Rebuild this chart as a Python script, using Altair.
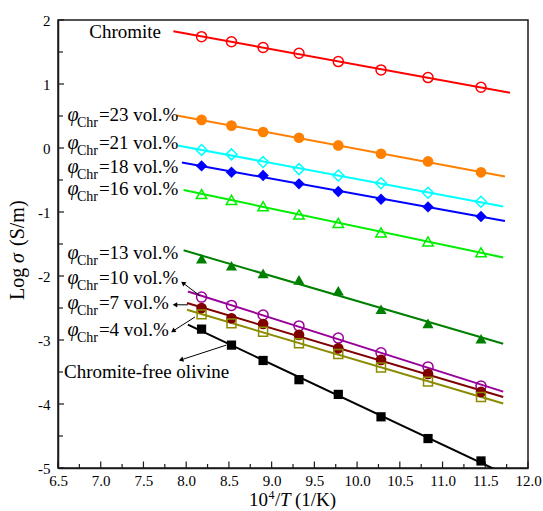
import math
import altair as alt
import numpy as np
import pandas as pd

# 10^4/T (1/K) of the eight measurement temperatures
inv_t = [8.18, 8.53, 8.90, 9.32, 9.78, 10.28, 10.83, 11.45]

# log10 conductivity (S/m) at each temperature
chromite = [1.74, 1.66, 1.57, 1.48, 1.35, 1.22, 1.10, 0.95]
chr23 = [0.44, 0.35, 0.25, 0.16, 0.04, -0.09, -0.21, -0.38]
chr21 = [-0.03, -0.10, -0.22, -0.33, -0.43, -0.55, -0.70, -0.84]
chr18 = [-0.28, -0.38, -0.43, -0.56, -0.68, -0.80, -0.92, -1.07]
chr16 = [-0.72, -0.81, -0.91, -1.04, -1.17, -1.32, -1.46, -1.63]
chr13 = [-1.73, -1.84, -1.96, -2.06, -2.23, -2.52, -2.74, -2.98]
chr10 = [-2.33, -2.46, -2.61, -2.78, -2.97, -3.20, -3.42, -3.72]
chr7 = [-2.50, -2.66, -2.75, -2.92, -3.13, -3.31, -3.53, -3.81]
chr4 = [-2.60, -2.74, -2.87, -3.05, -3.22, -3.43, -3.65, -3.89]
olivine = [-2.83, -3.08, -3.32, -3.62, -3.85, -4.20, -4.54, -4.89]

series_values = [chromite, chr23, chr21, chr18, chr16, chr13, chr10, chr7, chr4, olivine]

# x extent of each Arrhenius fit line
fit_start = [7.85, 7.89, 7.90, 7.95, 7.97, 7.97, 8.02, 8.01, 8.01, 8.02]
fit_end = [11.79, 11.73, 11.71, 11.73, 11.71, 11.71, 11.71, 11.71, 11.71, 11.70]

# marker styles
colors = ["#FF0000", "#FF8000", "#00FFFF", "#0000FF", "#00EE00",
          "#008000", "#990099", "#800000", "#8B8B00", "#000000"]
shapes = ["circle", "circle", "diamond", "diamond", "triangle-up",
          "triangle-up", "circle", "circle", "square", "square"]
filled = [False, True, False, True, False, True, False, True, False, True]
sizes = [100, 115, 120, 130, 110, 125, 100, 115, 80, 85]

# composition labels
phi_text = ["=23 vol.%", "=21 vol.%", "=18 vol.%", "=16 vol.%",
            "=13 vol.%", "=10 vol.%", "=7 vol.%", "=4 vol.%"]
phi_y = [0.52, 0.08, -0.30, -0.64, -1.64, -2.03, -2.42, -2.84]
phi_x = [6.61] * 8
plain_text = ["Chromite", "Chromite-free olivine"]
plain_x = [6.866, 6.57]
plain_y = [1.81, -3.50]

# leader arrows (head next to label, tail at the data)
arrow_head_x = [7.963, 7.869, 7.846, 7.94]
arrow_head_y = [-2.11, -2.45, -2.86, -3.31]
arrow_tail_x = [8.162, 8.021, 8.103, 8.47]
arrow_tail_y = [-2.31, -2.45, -2.64, -3.08]

# axis ticks
x_major = [6.5, 7.0, 7.5, 8.0, 8.5, 9.0, 9.5, 10.0, 10.5, 11.0, 11.5, 12.0]
x_minor = [6.75, 7.25, 7.75, 8.25, 8.75, 9.25, 9.75, 10.25, 10.75, 11.25, 11.75]
y_major = [-5, -4, -3, -2, -1, 0, 1, 2]
y_minor = [-4.5, -3.5, -2.5, -1.5, -0.5, 0.5, 1.5]

W, H = 470, 448
FONT = "Liberation Serif"
INK = "#1a1a1a"
XMIN, XMAX, YMIN, YMAX = 6.5, 12.0, -5.0, 2.0

xs = alt.Scale(domain=[XMIN, XMAX], nice=False, zero=False)
ys = alt.Scale(domain=[YMIN, YMAX], nice=False, zero=False)

x_axis = alt.Axis(values=x_major, format=".1f", ticks=False, grid=False, title=None,
                  labelFont=FONT, labelFontSize=15, labelColor="black", labelPadding=5,
                  domainColor=INK, domainWidth=1.5, labelFlush=False)
y_axis = alt.Axis(values=y_major, labelExpr="'' + datum.value", ticks=False, grid=False,
                  title=None, labelFont=FONT, labelFontSize=15, labelColor="black",
                  labelPadding=8, domainColor=INK, domainWidth=1.5, labelFlush=False)


def X(field="x"):
    return alt.X(f"{field}:Q", scale=xs, axis=x_axis)


def Y(field="y"):
    return alt.Y(f"{field}:Q", scale=ys, axis=y_axis)


layers = []

# inward tick marks
layers.append(alt.Chart(pd.DataFrame({"x": x_major})).mark_rule(color=INK, strokeWidth=1.2)
              .encode(x=X(), y=alt.value(H), y2=alt.value(H - 6.5)))
layers.append(alt.Chart(pd.DataFrame({"x": x_minor})).mark_rule(color=INK, strokeWidth=1.2)
              .encode(x=X(), y=alt.value(H), y2=alt.value(H - 4)))
layers.append(alt.Chart(pd.DataFrame({"y": y_major})).mark_rule(color=INK, strokeWidth=1.2)
              .encode(y=Y(), x=alt.value(0), x2=alt.value(6)))
layers.append(alt.Chart(pd.DataFrame({"y": y_minor})).mark_rule(color=INK, strokeWidth=1.2)
              .encode(y=Y(), x=alt.value(0), x2=alt.value(5)))

# least-squares Arrhenius fits
for vals, x0, x1, c in zip(series_values, fit_start, fit_end, colors):
    slope, icpt = np.polyfit(inv_t, vals, 1)
    line_df = pd.DataFrame({"x": [x0, x1], "y": [slope * x0 + icpt, slope * x1 + icpt]})
    layers.append(alt.Chart(line_df).mark_line(color=c, strokeWidth=2, clip=True)
                  .encode(x=X(), y=Y()))

# measured points
for vals, c, shp, f, s in zip(series_values, colors, shapes, filled, sizes):
    pt_df = pd.DataFrame({"x": inv_t, "y": vals})
    layers.append(alt.Chart(pt_df).mark_point(shape=shp, filled=f, color=c, size=s,
                                              strokeWidth=1.5, opacity=1)
                  .encode(x=X(), y=Y()))

# composition labels: italic phi, subscript "Chr", then the fraction
lab_df = pd.DataFrame({"x": phi_x, "y": phi_y, "t": phi_text})
layers.append(alt.Chart(lab_df).mark_text(text="φ", font=FONT, fontSize=20, fontStyle="italic",
                                          align="left", baseline="middle", color="black")
              .encode(x=X(), y=Y()))
layers.append(alt.Chart(lab_df).mark_text(text="Chr", font=FONT, fontSize=14, align="left",
                                          baseline="middle", color="black", dx=9.5, dy=8)
              .encode(x=X(), y=Y()))
layers.append(alt.Chart(lab_df).mark_text(font=FONT, fontSize=19, align="left",
                                          baseline="middle", color="black", dx=31.5)
              .encode(x=X(), y=Y(), text="t:N"))

plain_df = pd.DataFrame({"x": plain_x, "y": plain_y, "t": plain_text})
layers.append(alt.Chart(plain_df).mark_text(font=FONT, fontSize=19, align="left",
                                            baseline="middle", color="black")
              .encode(x=X(), y=Y(), text="t:N"))

# leader arrows
px_per_x = W / (XMAX - XMIN)
px_per_y = H / (YMAX - YMIN)
angles = []
for hx, hy, tx, ty in zip(arrow_head_x, arrow_head_y, arrow_tail_x, arrow_tail_y):
    dxp = (hx - tx) * px_per_x
    dyp = -(hy - ty) * px_per_y
    angles.append(math.degrees(math.atan2(dxp, -dyp)) % 360)
arrow_df = pd.DataFrame({"x": arrow_tail_x, "y": arrow_tail_y,
                         "x2": arrow_head_x, "y2": arrow_head_y, "a": angles})
layers.append(alt.Chart(arrow_df).mark_rule(color="black", strokeWidth=1)
              .encode(x=X(), y=Y(), x2="x2:Q", y2="y2:Q"))
layers.append(alt.Chart(arrow_df).mark_point(shape="triangle-up", filled=True, color="black",
                                             size=28, opacity=1)
              .encode(x=X("x2"), y=Y("y2"), angle=alt.Angle("a:Q", scale=None)))

# axis titles
xt = [("10", 191, 486, 19, "normal"), ("4", 210.5, 479, 12, "normal"),
      ("/", 217, 486, 19, "normal"), ("T", 222, 486, 19, "italic"),
      ("(1/K)", 237, 486, 19, "normal")]
for txt, px, py, fs, st in xt:
    layers.append(alt.Chart(pd.DataFrame({"v": [0]})).mark_text(
        text=txt, font=FONT, fontSize=fs, fontStyle=st, align="left",
        baseline="alphabetic", color="black")
        .encode(x=alt.value(px), y=alt.value(py)))

yt = [("Log", 280, "normal"), ("σ", 243, "italic"), ("(S/m)", 226, "normal")]
for txt, py, st in yt:
    layers.append(alt.Chart(pd.DataFrame({"v": [0]})).mark_text(
        text=txt, font=FONT, fontSize=20, fontStyle=st, align="left",
        baseline="middle", angle=270, color="black")
        .encode(x=alt.value(-40), y=alt.value(py)))

chart = alt.layer(*layers).properties(
    width=W, height=H,
    autosize=alt.AutoSizeParams(type="none"),
    padding={"left": 58, "top": 20, "right": 15, "bottom": 43},
).configure_view(stroke=INK, strokeWidth=1.5)

chart.save("out.html", embed_options={"renderer": "svg", "actions": False})
